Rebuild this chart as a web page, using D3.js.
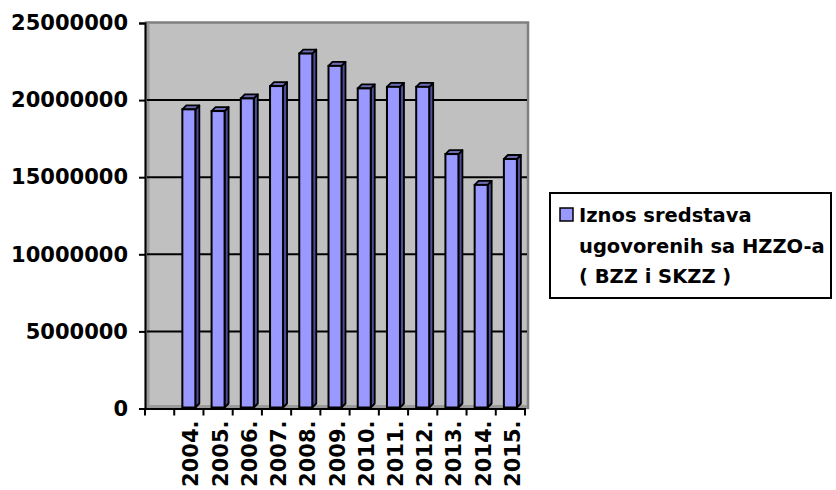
<!DOCTYPE html>
<html>
<head>
<meta charset="utf-8">
<script src="https://cdn.jsdelivr.net/npm/d3@7"></script>
<style>
  html, body { margin: 0; padding: 0; background: #fff; }
  svg { display: block; }
  text { font-family: "DejaVu Sans", sans-serif; font-weight: bold; fill: #000; }
</style>
</head>
<body>
<script>
const categories = ["2004.", "2005.", "2006.", "2007.", "2008.", "2009.", "2010.", "2011.", "2012.", "2013.", "2014.", "2015."];
const values = [19400000, 19290000, 20110000, 20910000, 23020000, 22220000, 20760000, 20860000, 20860000, 16500000, 14500000, 16180000];
const yTicks = [0, 5000000, 10000000, 15000000, 20000000, 25000000];
const legendLines = ["Iznos sredstava", "ugovorenih sa HZZO-a", "( BZZ i SKZZ )"];

(function () {
const W = 836, H = 490;
const svg = d3.select("body").append("svg").attr("width", W).attr("height", H);

const pLeft = 145, pRight = 525, pTop = 23, pBottom = 408.5;
const domain = [""].concat(categories);
const x = d3.scaleBand().domain(domain).range([pLeft, pRight]).padding(0);
const y = d3.scaleLinear().domain([0, 25000000]).range([pBottom, pTop]);

const dx = 4, dy = 4;

// back wall
svg.append("rect")
  .attr("x", pLeft + 1).attr("y", y(25000000) - 0.5)
  .attr("width", 528 - pLeft - 1).attr("height", pBottom - y(25000000))
  .attr("fill", "#c0c0c0").attr("stroke", "#808080").attr("stroke-width", 2.5);
svg.append("line").attr("x1", pLeft + 2).attr("x2", 527)
  .attr("y1", pBottom - 2).attr("y2", pBottom - 2)
  .attr("stroke", "#9a9a9a").attr("stroke-width", 3);
svg.append("line").attr("x1", pLeft + 3).attr("x2", pLeft + 3)
  .attr("y1", y(25000000) + 1).attr("y2", pBottom - 2)
  .attr("stroke", "#9a9a9a").attr("stroke-width", 3);

// gridlines
svg.append("g").selectAll("line")
  .data(yTicks.filter(d => d > 0 && d < 25000000))
  .join("line")
  .attr("x1", pLeft + 2).attr("x2", 527)
  .attr("y1", d => y(d)).attr("y2", d => y(d))
  .attr("stroke", "#000").attr("stroke-width", 2);

// bars
const bw = 13;
const bars = svg.append("g").selectAll("g")
  .data(categories.map((c, i) => ({ c, v: values[i] })))
  .join("g");
bars.each(function (d) {
  const g = d3.select(this);
  const cx = x(d.c) + x.bandwidth() / 2;
  const x0 = cx - bw / 2, x1 = cx + bw / 2;
  const yt = y(d.v), yb = pBottom - 1;
  g.append("polygon")
    .attr("points", [[x1, yt], [x1 + dx, yt - dy], [x1 + dx, yb - dy], [x1, yb]].map(p => p.join(",")).join(" "))
    .attr("fill", "#4d4d99").attr("stroke", "#000").attr("stroke-width", 1.8).attr("stroke-linejoin", "round");
  g.append("polygon")
    .attr("points", [[x0, yt], [x0 + dx, yt - dy], [x1 + dx, yt - dy], [x1, yt]].map(p => p.join(",")).join(" "))
    .attr("fill", "#6b6bb3").attr("stroke", "#000").attr("stroke-width", 1.8).attr("stroke-linejoin", "round");
  g.append("rect")
    .attr("x", x0).attr("y", yt).attr("width", bw).attr("height", yb - yt)
    .attr("fill", "#9999ff").attr("stroke", "#000").attr("stroke-width", 2);
});

// y axis
const yAxis = d3.axisLeft(y).tickValues(yTicks).tickSize(6).tickPadding(11).tickFormat(d3.format("d"));
const gy = svg.append("g").attr("transform", `translate(${pLeft},0)`).call(yAxis);
gy.select(".domain").attr("stroke", "#000").attr("stroke-width", 2);
gy.selectAll(".tick line").attr("stroke", "#000").attr("stroke-width", 2);
gy.selectAll(".tick text").attr("font-size", 21).attr("font-family", "DejaVu Sans").attr("font-weight", "bold").attr("fill", "#000");

// x axis
const gx = svg.append("g");
gx.append("line").attr("x1", pLeft - 1).attr("x2", pRight + 1)
  .attr("y1", pBottom + 0.5).attr("y2", pBottom + 0.5)
  .attr("stroke", "#000").attr("stroke-width", 2);
gx.selectAll("line.tk")
  .data(domain.map(d => x(d)).concat([pRight]))
  .join("line").attr("class", "tk")
  .attr("x1", d => d).attr("x2", d => d)
  .attr("y1", pBottom).attr("y2", pBottom + 7)
  .attr("stroke", "#000").attr("stroke-width", 2);
gx.selectAll("text")
  .data(categories)
  .join("text")
  .attr("transform", d => `translate(${x(d) + x.bandwidth() / 2 + 2},${pBottom + 12}) rotate(-90)`)
  .attr("text-anchor", "end")
  .attr("dy", "0.36em")
  .attr("font-size", 21)
  .text(d => d);

// legend
const lg = svg.append("g");
lg.append("rect").attr("x", 550).attr("y", 193).attr("width", 281).attr("height", 105)
  .attr("fill", "#fff").attr("stroke", "#000").attr("stroke-width", 2);
lg.append("rect").attr("x", 560).attr("y", 208).attr("width", 13).attr("height", 13)
  .attr("fill", "#9999ff").attr("stroke", "#000").attr("stroke-width", 1.5);
lg.selectAll("text.l").data(legendLines).join("text").attr("class", "l")
  .attr("x", 579).attr("y", (d, i) => 222 + i * 30.5)
  .attr("font-size", 19.5)
  .text(d => d);
})();
</script>
</body>
</html>
